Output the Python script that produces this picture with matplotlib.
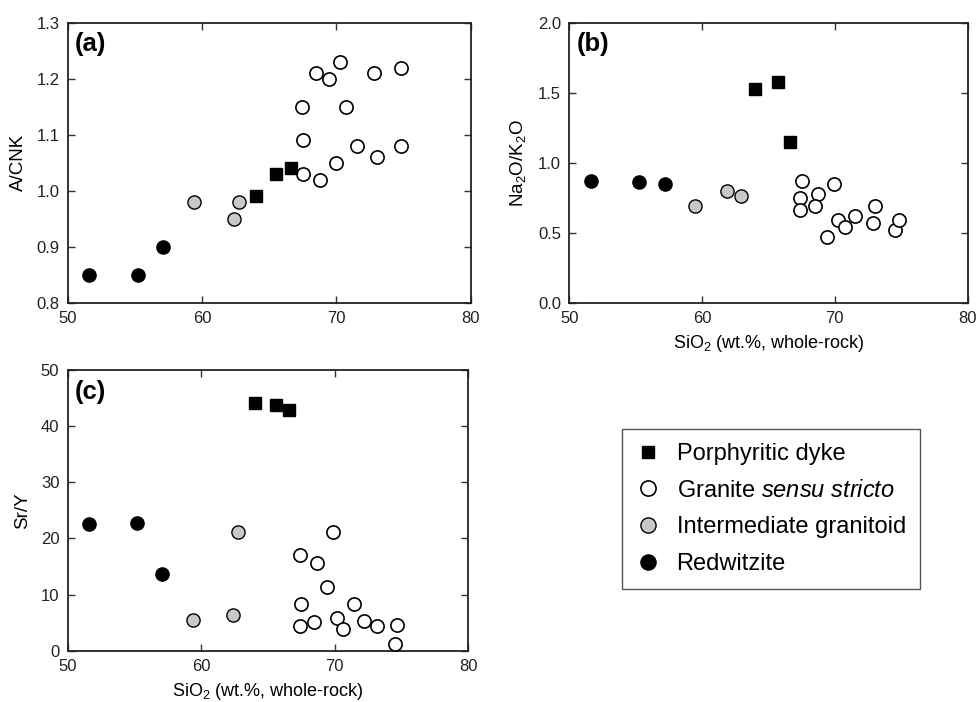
import matplotlib
matplotlib.use("Agg")
import matplotlib.pyplot as plt

plt.rcParams["font.family"] = ["Liberation Sans", "DejaVu Sans"]
plt.rcParams["mathtext.fontset"] = "custom"
plt.rcParams["mathtext.rm"] = "Liberation Sans"
plt.rcParams["mathtext.it"] = "Liberation Sans:italic"
plt.rcParams["mathtext.default"] = "regular"

# --- data ---
# (a) A/CNK vs SiO2
red_sio2_a = [51.6, 55.2, 57.1]
red_acnk = [0.85, 0.85, 0.90]
int_sio2_a = [59.4, 62.75, 62.4]
int_acnk = [0.98, 0.98, 0.95]
dyke_sio2_a = [64.0, 65.5, 66.6]
dyke_acnk = [0.99, 1.03, 1.04]
gran_sio2_a = [68.5, 69.45, 70.3, 72.8, 74.8, 67.45, 70.7, 67.5, 71.5, 73.0, 74.8, 69.95, 67.5, 68.75]
gran_acnk = [1.21, 1.20, 1.23, 1.21, 1.22, 1.15, 1.15, 1.09, 1.08, 1.06, 1.08, 1.05, 1.03, 1.02]

# (b) Na2O/K2O vs SiO2
red_sio2_b = [51.6, 55.25, 57.2]
red_nak = [0.87, 0.865, 0.85]
int_sio2_b = [59.45, 61.9, 62.95]
int_nak = [0.69, 0.80, 0.76]
dyke_sio2_b = [64.0, 65.7, 66.6]
dyke_nak = [1.53, 1.58, 1.15]
gran_sio2_b = [67.5, 67.4, 67.4, 68.7, 68.5, 69.95, 69.4, 70.25, 70.8, 71.5, 73.0, 72.85, 74.55, 74.85]
gran_nak = [0.87, 0.75, 0.665, 0.78, 0.69, 0.85, 0.47, 0.59, 0.54, 0.62, 0.69, 0.57, 0.52, 0.59]

# (c) Sr/Y vs SiO2
red_sio2_c = [51.6, 55.2, 57.1]
red_sry = [22.6, 22.7, 13.7]
int_sio2_c = [59.4, 62.4, 62.75]
int_sry = [5.5, 6.35, 21.1]
dyke_sio2_c = [64.0, 65.6, 66.6]
dyke_sry = [44.2, 43.8, 42.9]
gran_sio2_c = [69.85, 67.4, 68.7, 69.4, 67.5, 71.45, 70.2, 72.2, 67.4, 68.45, 70.6, 73.2, 74.7, 74.5]
gran_sry = [21.1, 17.0, 15.7, 11.4, 8.4, 8.25, 5.9, 5.35, 4.4, 5.1, 3.8, 4.4, 4.6, 1.25]

labels = ["Porphyritic dyke", r"Granite $\it{sensu\ stricto}$",
          "Intermediate granitoid", "Redwitzite"]

x_label = r"SiO$_2$ (wt.%, whole-rock)"

fig = plt.figure(figsize=(9.8, 7.02), dpi=100)
ax_a = fig.add_axes([0.0691, 0.5684, 0.4112, 0.3993])
ax_b = fig.add_axes([0.5809, 0.5684, 0.4065, 0.3993])
ax_c = fig.add_axes([0.0691, 0.0731, 0.4085, 0.3998])


def draw(ax, groups):
    dx, dy, gx, gy, ix, iy, rx, ry = groups
    h1, = ax.plot(dx, dy, ls="none", marker="s", ms=8, mfc="black", mec="black", zorder=4)
    h2, = ax.plot(gx, gy, ls="none", marker="o", ms=9.5, mfc="white", mec="black", mew=1.2, zorder=3)
    h3, = ax.plot(ix, iy, ls="none", marker="o", ms=9.5, mfc="#c8c8c8", mec="black", mew=1.0, zorder=3)
    h4, = ax.plot(rx, ry, ls="none", marker="o", ms=9.5, mfc="black", mec="black", zorder=3)
    ax.set_xlim(50, 80)
    ax.set_xticks([50, 60, 70, 80])
    ax.tick_params(direction="in", top=True, right=True, length=5, width=1,
                   color="#333333", labelsize=12, labelcolor="#222222", pad=6)
    for sp in ax.spines.values():
        sp.set_linewidth(1.3)
        sp.set_color("#222222")
    return [h1, h2, h3, h4]


handles = draw(ax_a, (dyke_sio2_a, dyke_acnk, gran_sio2_a, gran_acnk,
                      int_sio2_a, int_acnk, red_sio2_a, red_acnk))
ax_a.set_ylim(0.8, 1.3)
ax_a.set_yticks([0.8, 0.9, 1.0, 1.1, 1.2, 1.3])
ax_a.set_yticklabels(["0.8", "0.9", "1.0", "1.1", "1.2", "1.3"])
ax_a.set_ylabel("A/CNK", fontsize=13.5, labelpad=7)

draw(ax_b, (dyke_sio2_b, dyke_nak, gran_sio2_b, gran_nak,
            int_sio2_b, int_nak, red_sio2_b, red_nak))
ax_b.set_ylim(0.0, 2.0)
ax_b.set_yticks([0.0, 0.5, 1.0, 1.5, 2.0])
ax_b.set_yticklabels(["0.0", "0.5", "1.0", "1.5", "2.0"])
ax_b.set_ylabel(r"Na$_2$O/K$_2$O", fontsize=13.5, labelpad=7)
ax_b.set_xlabel(x_label, fontsize=13, labelpad=5)

draw(ax_c, (dyke_sio2_c, dyke_sry, gran_sio2_c, gran_sry,
            int_sio2_c, int_sry, red_sio2_c, red_sry))
ax_c.set_ylim(0, 50)
ax_c.set_yticks([0, 10, 20, 30, 40, 50])
ax_c.set_ylabel("Sr/Y", fontsize=13.5, labelpad=7)
ax_c.set_xlabel(x_label, fontsize=13, labelpad=5)

for ax, tag in [(ax_a, "(a)"), (ax_b, "(b)"), (ax_c, "(c)")]:
    ax.text(0.018, 0.965, tag, transform=ax.transAxes, ha="left", va="top",
            fontsize=18.5, fontweight="bold")

leg = fig.legend(handles, labels, loc="upper left", bbox_to_anchor=(0.635, 0.389),
                 bbox_transform=fig.transFigure, borderaxespad=0, fontsize=17,
                 fancybox=False, edgecolor="#555555", framealpha=1,
                 labelspacing=0.62, handletextpad=0.7, borderpad=0.6,
                 handlelength=1.0, markerscale=1.15)
leg.get_frame().set_linewidth(1.0)

fig.savefig("out.png", dpi=100)
